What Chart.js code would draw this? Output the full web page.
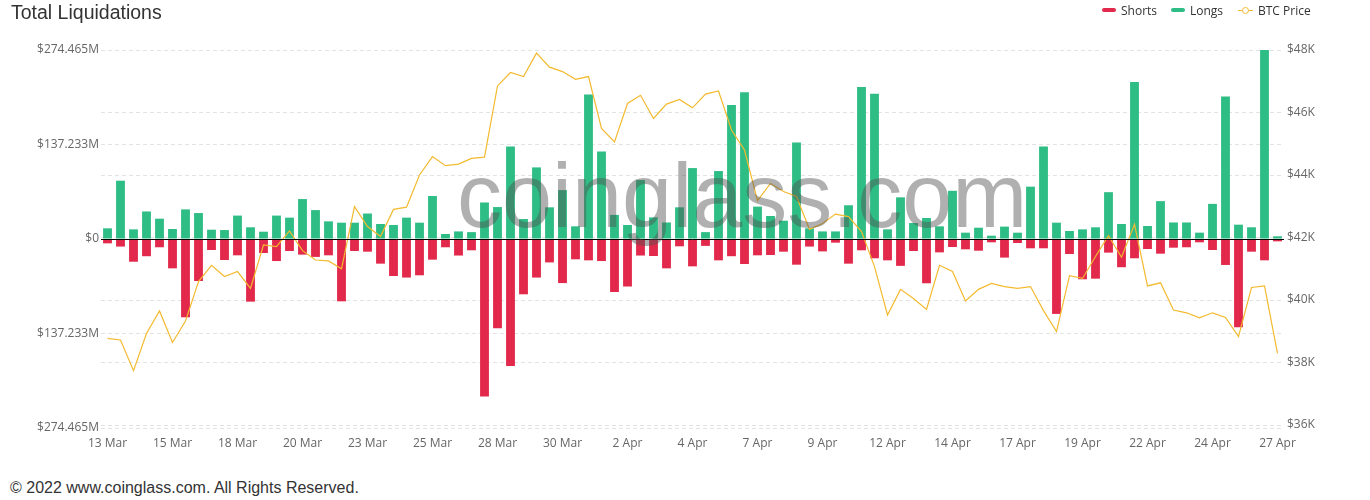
<!DOCTYPE html>
<html>
<head>
<meta charset="utf-8">
<script src="https://cdn.jsdelivr.net/npm/chart.js@4.4.1/dist/chart.umd.min.js"></script>
<style>
  html, body { margin:0; padding:0; background:#fff; width:1370px; height:500px; overflow:hidden; }
  #wrap { position:relative; width:1370px; height:500px; }
  #c { position:absolute; left:0; top:0; }
  .title { position:absolute; left:11px; top:0; font:19.5px "Liberation Sans", Arial, sans-serif; color:#333; line-height:24px; }
  .footer { position:absolute; left:10px; top:478px; font:16px "Liberation Sans", Arial, sans-serif; color:#333; line-height:20px; }
  .lg { position:absolute; top:0; font:12px "Open Sans", sans-serif; color:#333; line-height:21px; }
  .mk { position:absolute; height:4px; border-radius:2px; top:8px; }
  .ln { position:absolute; height:1.5px; top:9.5px; background:#f3ba2f; }
  .dot { position:absolute; width:5px; height:5px; border:1.5px solid #f3ba2f; border-radius:50%; background:#fff; top:6.5px; }
  .wm { position:absolute; left:457px; top:146px; font:90px "Liberation Sans", Arial, sans-serif; color:rgba(80,80,80,0.45); line-height:100px; pointer-events:none; white-space:nowrap; }
</style>
</head>
<body>
<div id="wrap">
  <canvas id="c" width="1370" height="460"></canvas>
  <div class="title">Total Liquidations</div>
  <div class="mk" style="left:1102px;width:14px;background:#e2294b;"></div>
  <div class="lg" style="left:1121px;">Shorts</div>
  <div class="mk" style="left:1171px;width:14px;background:#2ebd85;"></div>
  <div class="lg" style="left:1190px;">Longs</div>
  <div class="ln" style="left:1238px;width:15px;"></div>
  <div class="dot" style="left:1241.5px;"></div>
  <div class="lg" style="left:1258px;">BTC Price</div>
  <div class="wm">coinglass.com</div>
  <div class="footer">© 2022 www.coinglass.com. All Rights Reserved.</div>
</div>
<script>
// 12-hour intervals, 13 Mar 00:00 to 27 Apr 00:00
const categories = [
 "13 Mar 00:00","13 Mar 12:00","14 Mar 00:00","14 Mar 12:00","15 Mar 00:00","15 Mar 12:00","16 Mar 00:00","16 Mar 12:00",
 "17 Mar 00:00","17 Mar 12:00","18 Mar 00:00","18 Mar 12:00","19 Mar 00:00","19 Mar 12:00","20 Mar 00:00","20 Mar 12:00",
 "21 Mar 00:00","21 Mar 12:00","22 Mar 00:00","22 Mar 12:00","23 Mar 00:00","23 Mar 12:00","24 Mar 00:00","24 Mar 12:00",
 "25 Mar 00:00","25 Mar 12:00","26 Mar 00:00","26 Mar 12:00","27 Mar 00:00","27 Mar 12:00","28 Mar 00:00","28 Mar 12:00",
 "29 Mar 00:00","29 Mar 12:00","30 Mar 00:00","30 Mar 12:00","31 Mar 00:00","31 Mar 12:00","1 Apr 00:00","1 Apr 12:00",
 "2 Apr 00:00","2 Apr 12:00","3 Apr 00:00","3 Apr 12:00","4 Apr 00:00","4 Apr 12:00","5 Apr 00:00","5 Apr 12:00",
 "6 Apr 00:00","6 Apr 12:00","7 Apr 00:00","7 Apr 12:00","8 Apr 00:00","8 Apr 12:00","9 Apr 00:00","9 Apr 12:00",
 "10 Apr 00:00","10 Apr 12:00","11 Apr 00:00","11 Apr 12:00","12 Apr 00:00","12 Apr 12:00","13 Apr 00:00","13 Apr 12:00",
 "14 Apr 00:00","14 Apr 12:00","15 Apr 00:00","15 Apr 12:00","16 Apr 00:00","16 Apr 12:00","17 Apr 00:00","17 Apr 12:00",
 "18 Apr 00:00","18 Apr 12:00","19 Apr 00:00","19 Apr 12:00","20 Apr 00:00","20 Apr 12:00","21 Apr 00:00","21 Apr 12:00",
 "22 Apr 00:00","22 Apr 12:00","23 Apr 00:00","23 Apr 12:00","24 Apr 00:00","24 Apr 12:00","25 Apr 00:00","25 Apr 12:00",
 "26 Apr 00:00","26 Apr 12:00","27 Apr 00:00"
];
const xTickLabels = ["13 Mar","15 Mar","18 Mar","20 Mar","23 Mar","25 Mar","28 Mar","30 Mar","2 Apr","4 Apr",
                     "7 Apr","9 Apr","12 Apr","14 Apr","17 Apr","19 Apr","22 Apr","24 Apr","27 Apr"];
const xTickEvery = 5;

// Millions USD
const longs = [
 15.5,84.7,14,40,29.5,14.5,43,37.7,13.5,13,34,17,10.6,34,31,58,42,25.6,23.7,23.7,
 37,21.8,20.3,31,23.7,62.4,7.3,11,10,53,46.4,134.5,29,104,46,71,18.4,210,127,35,
 20.3,85.6,31.4,24,46,103,10,98.7,194.5,213,47,33.4,26.6,140,15.5,11,11,49,220.6,211,
 14,60.5,23.2,30.5,18.4,70,9.2,16.4,4.8,18,9.2,76,134.5,23.7,11.6,14,17,68,21.8,228,
 18.9,55,24,24,9.2,51,207,20.8,17,274.4,3.9
];
const shorts = [
 6.3,11,33,25,12,42.6,113.7,61,16,30.5,23.7,91,20.3,32,17.4,22.7,26,23.7,90.5,17.4,
 18.4,35.8,53.7,56,52.7,30,12,24,16.4,228.8,129.7,184.3,80.3,56,34,64,29.5,31,32,77,
 69,24,24.7,42.6,10.6,39.7,10,31,25,36.3,23.7,23.2,18.4,37.3,11,18,5.3,35.8,16.4,28,
 31,39,17.4,64.3,19.4,11.6,15,17,4.8,27,5.8,13.5,13.5,108.8,21.8,58.5,57.6,19.8,41,28,
 14.5,21.3,12.6,12,4.8,16,37.7,128,18.4,31,3.4
];
// USD
const btcPrice = [
 38770,38720,37740,38930,39650,38640,39330,40590,41110,40750,40910,40370,41760,41710,42210,41580,41280,41250,41000,42990,
 42350,42030,42900,42970,44000,44590,44300,44350,44530,44570,46850,47280,47150,47900,47450,47310,47060,47150,45490,45060,
 46290,46550,45810,46270,46420,46150,46590,46690,45440,44800,43180,43730,43470,43310,42260,42450,42750,42670,42190,41070,
 39520,40340,40050,39700,41110,40910,39970,40340,40530,40430,40370,40430,39660,38990,40780,40690,41390,42060,41370,42420,
 40450,40550,39680,39590,39430,39590,39440,38830,40400,40450,38290
];
const leftTicks = [-274.465, -137.233, 0, 137.233, 274.465];
const rightTicks = [36000, 38000, 40000, 42000, 44000, 46000, 48000];

const gridColor = '#e3e3e3';
const tickFont = { family: '"Open Sans", sans-serif', size: 12 };

const zeroLine = {
  id: 'zeroLine',
  afterDatasetsDraw(chart) {
    const y = Math.round(chart.scales.y.getPixelForValue(0)) + 0.5;
    const a = chart.chartArea;
    const ctx = chart.ctx;
    ctx.save();
    ctx.strokeStyle = '#000';
    ctx.lineWidth = 1;
    ctx.beginPath();
    ctx.moveTo(a.left, y);
    ctx.lineTo(a.right, y);
    ctx.stroke();
    ctx.restore();
  }
};

new Chart(document.getElementById('c'), {
  data: {
    labels: categories,
    datasets: [
      { type: 'line', label: 'BTC Price', data: btcPrice, yAxisID: 'y1', borderColor: '#f3ba2f',
        borderWidth: 1.2, pointRadius: 0, tension: 0, order: 0, stack: 'price' },
      { type: 'bar', label: 'Shorts', data: shorts.map(v => -v), backgroundColor: '#e2294b',
        yAxisID: 'y', stack: 'liq', order: 1, categoryPercentage: 1, barPercentage: 0.68 },
      { type: 'bar', label: 'Longs', data: longs, backgroundColor: '#2ebd85',
        yAxisID: 'y', stack: 'liq', order: 1, categoryPercentage: 1, barPercentage: 0.68 }
    ]
  },
  options: {
    responsive: false,
    animation: false,
    devicePixelRatio: 1,
    layout: { padding: { top: 50, left: 0, right: 0, bottom: 0 } },
    plugins: { legend: { display: false }, tooltip: { enabled: false } },
    scales: {
      x: {
        stacked: true, offset: true,
        grid: { display: false, drawTicks: false },
        border: { display: false },
        ticks: {
          autoSkip: false, maxRotation: 0, minRotation: 0, padding: 8, color: '#666', font: tickFont,
          callback: (v, i) => (i % xTickEvery === 0 ? xTickLabels[i / xTickEvery] : '')
        },
        afterFit: s => { s.height = 32; }
      },
      y: {
        position: 'left', stacked: true, min: -274.465, max: 274.465,
        afterBuildTicks: s => { s.ticks = leftTicks.map(v => ({ value: v })); },
        grid: { color: gridColor, drawTicks: false, lineWidth: 1 },
        border: { display: false, dash: [4, 3] },
        ticks: {
          padding: 2, color: '#666', font: tickFont,
          callback: v => (v === 0 ? '$0' : '$' + Math.abs(v).toFixed(3) + 'M')
        },
        afterFit: s => { s.width = 101; }
      },
      y1: {
        position: 'right', stacked: false, min: 35904, max: 48000,
        afterBuildTicks: s => { s.ticks = rightTicks.map(v => ({ value: v })); },
        grid: { color: gridColor, drawTicks: false, lineWidth: 1 },
        border: { display: false, dash: [4, 3] },
        ticks: { padding: 3, color: '#666', font: tickFont, callback: v => '$' + (v / 1000) + 'K' },
        afterFit: s => { s.width = 86; }
      }
    }
  },
  plugins: [zeroLine]
});
</script>
</body>
</html>
